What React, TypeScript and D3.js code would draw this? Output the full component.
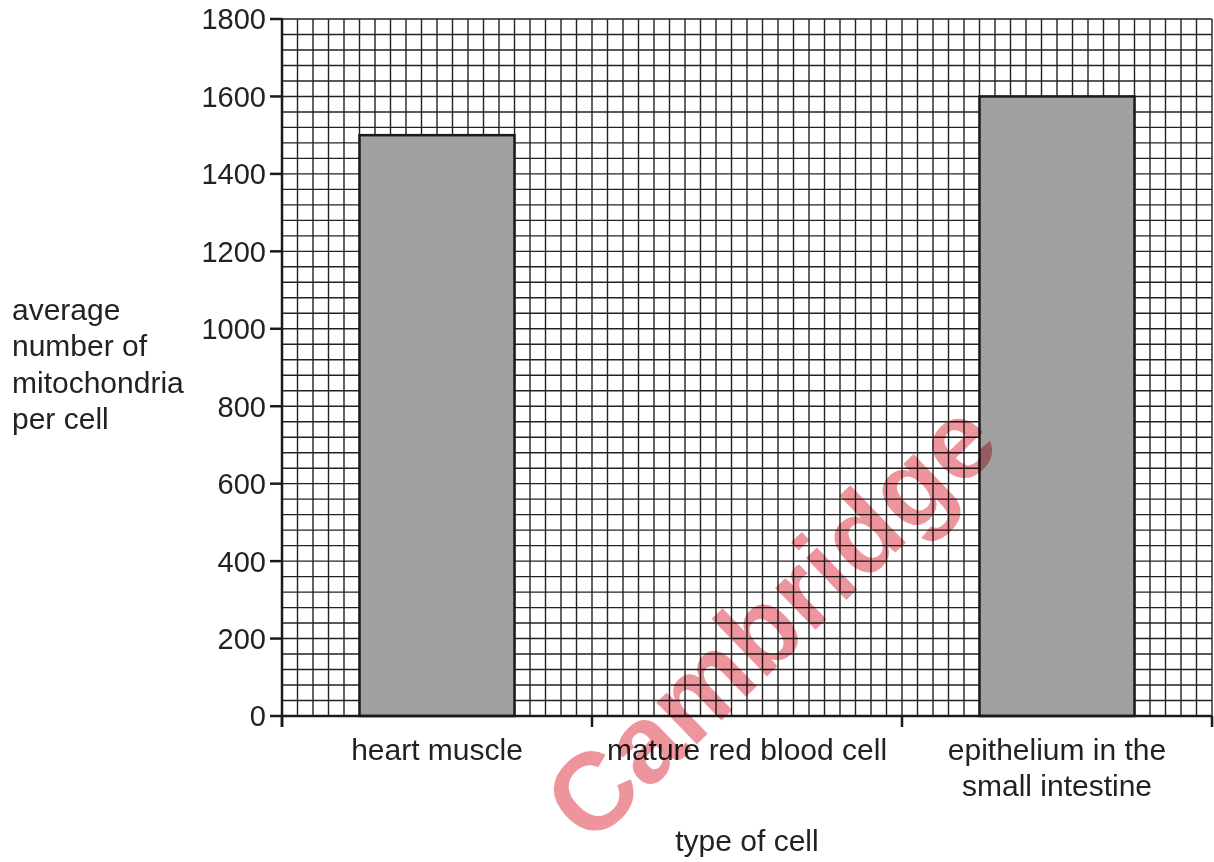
import React from "react";
import * as d3 from "d3";

// data
const categories = ["heart muscle", "mature red blood cell", "epithelium in the small intestine"];
const categoryLines = [["heart muscle"], ["mature red blood cell"], ["epithelium in the", "small intestine"]];
const values = [1500, 0, 1600];
const yTicks = [0, 200, 400, 600, 800, 1000, 1200, 1400, 1600, 1800];
const yLabelLines = ["average", "number of", "mitochondria", "per cell"];
const xLabel = "type of cell";
const watermark = "Cambridge";

const width = 1214;
const height = 862;
const margin = { top: 19, right: 2, bottom: 146, left: 282 };
const font = "'Liberation Sans', Arial, sans-serif";

const App: React.FC = () => {
    const innerW = width - margin.left - margin.right;
    const innerH = height - margin.top - margin.bottom;

    const x = d3.scaleBand().domain(categories).range([0, innerW]).paddingInner(0.5).paddingOuter(0.25);
    const y = d3.scaleLinear().domain([0, 1800]).range([innerH, 0]);
    const cells = d3.scaleLinear().domain([0, 60]).range([0, innerW]);
    const step = x.step();

    const hLines = d3.range(0, 1801, 40);
    const vLines = d3.range(0, 61);

    return (
        <svg width={width} height={height} style={{ position: "absolute", left: 0, top: 0, background: "#fff" }} fontFamily={font}>
            <g transform={`translate(${margin.left},${margin.top})`}>
                {/* graph paper */}
                <g stroke="#222" strokeWidth={1.4}>
                    {hLines.map((v) => (
                        <line key={"h" + v} x1={0} x2={innerW} y1={y(v)} y2={y(v)} />
                    ))}
                    {vLines.map((i) => (
                        <line key={"v" + i} x1={cells(i)} x2={cells(i)} y1={0} y2={innerH} />
                    ))}
                </g>

                {/* bars */}
                {categories.map((c, i) =>
                    values[i] > 0 ? (
                        <rect
                            key={c}
                            x={x(c)}
                            y={y(values[i])}
                            width={x.bandwidth()}
                            height={innerH - y(values[i])}
                            fill="#a0a0a0"
                            stroke="#1a1a1a"
                            strokeWidth={2.5}
                        />
                    ) : null
                )}

                {/* y axis */}
                <line x1={0} x2={0} y1={-1} y2={innerH + 11} stroke="#1a1a1a" strokeWidth={2.5} />
                {yTicks.map((t) => (
                    <g key={t} transform={`translate(0,${y(t)})`}>
                        <line x1={-12} x2={0} stroke="#1a1a1a" strokeWidth={2.5} />
                        <text x={-16} dy="0.36em" textAnchor="end" fontSize={29} fill="#222">
                            {t}
                        </text>
                    </g>
                ))}

                {/* x axis */}
                <line x1={0} x2={innerW} y1={innerH} y2={innerH} stroke="#1a1a1a" strokeWidth={2.5} />
                {d3.range(0, categories.length + 1).map((i) => (
                    <line key={i} x1={i * step} x2={i * step} y1={innerH} y2={innerH + 11} stroke="#1a1a1a" strokeWidth={2.5} />
                ))}
                {categories.map((c, i) => (
                    <text key={c} x={(x(c) ?? 0) + x.bandwidth() / 2} y={innerH + 44} textAnchor="middle" fontSize={30} fill="#222">
                        {categoryLines[i].map((line, j) => (
                            <tspan key={j} x={(x(c) ?? 0) + x.bandwidth() / 2} dy={j === 0 ? 0 : 36}>
                                {line}
                            </tspan>
                        ))}
                    </text>
                ))}
                <text x={innerW / 2} y={innerH + 135} textAnchor="middle" fontSize={30} fill="#222">
                    {xLabel}
                </text>
            </g>

            {/* y axis title */}
            <text x={12} y={320} fontSize={30} fill="#222">
                {yLabelLines.map((line, j) => (
                    <tspan key={j} x={12} dy={j === 0 ? 0 : 36.3}>
                        {line}
                    </tspan>
                ))}
            </text>

            {/* watermark */}
            <text
                transform="translate(770,620) rotate(-44)"
                textAnchor="middle"
                dy="0.35em"
                fontSize={110}
                fontWeight="bold"
                fill="#dc2a3a"
                opacity={0.5}
                style={{ mixBlendMode: "multiply" }}
            >
                {watermark}
            </text>
        </svg>
    );
};

export default App;
